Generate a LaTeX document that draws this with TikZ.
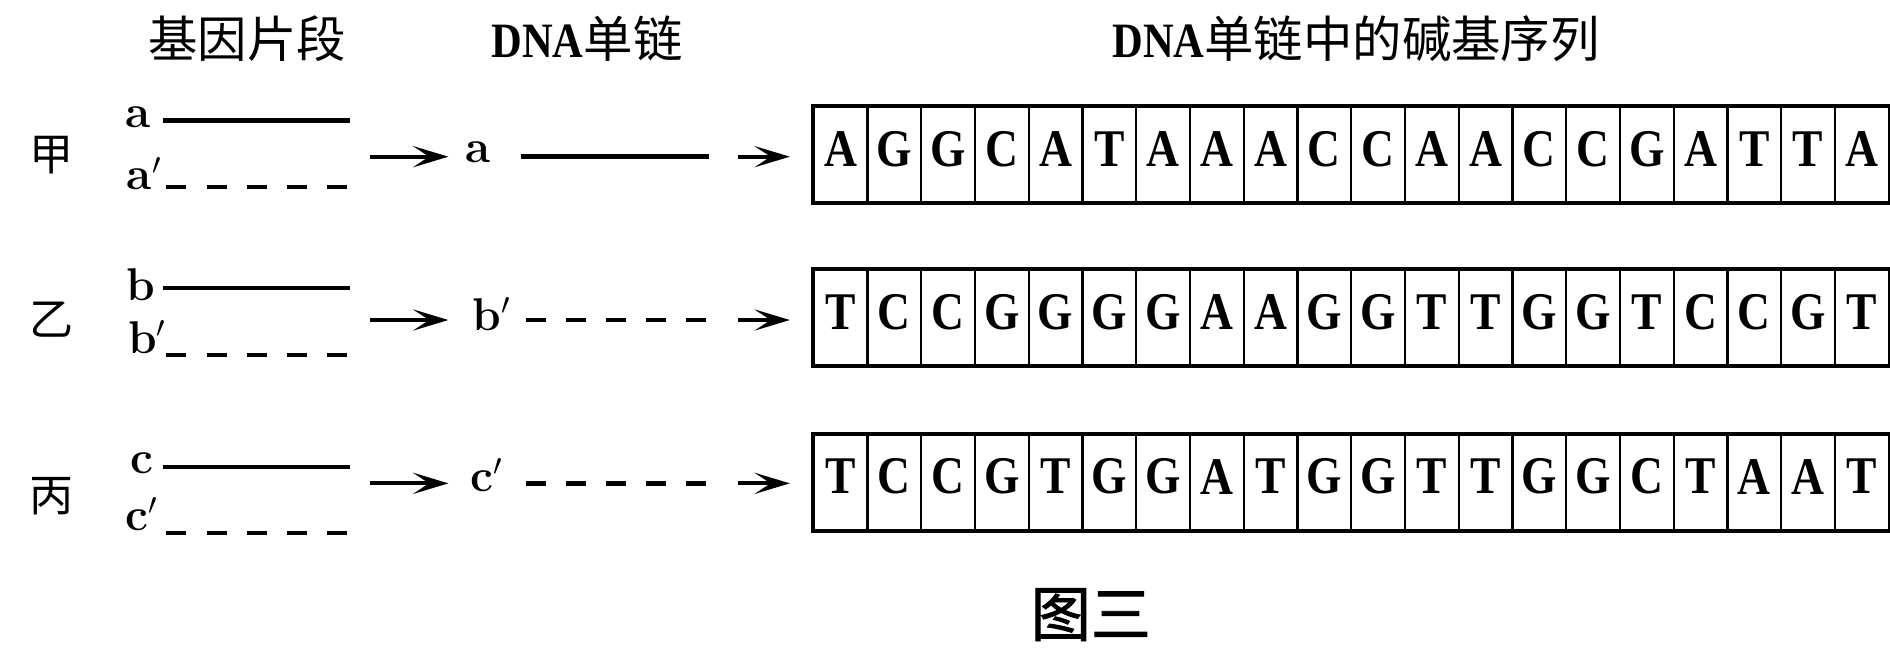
\documentclass[tikz,border=0pt]{standalone}
\usepackage{fontspec}
\newfontfamily\cjk{Noto Sans CJK SC}[AutoFakeBold=1.5]
\newfontfamily\narrow{Liberation Serif}[FakeStretch=0.86]
\usetikzlibrary{arrows.meta}

\newcommand{\baserow}[3]{%
  \foreach \b [count=\i] in {#3} {
    \node[basecell] (#1-\i) at ({675+44.6*(\i-0.5)},#2) {};
    \node[baseletter] at ([yshift=0.11cm]#1-\i.center) {\b};
  }
  \draw[line width=2pt] (#1-1.north west) rectangle (#1-20.south east);
}

\begin{document}
\begin{tikzpicture}[x=0.024cm,y=-0.024cm]
\tikzstyle{every node}+=[inner sep=0pt]
\tikzstyle{head}=[font=\fontsize{28}{30}\selectfont]
\tikzstyle{rowname}=[font=\fontsize{25}{27}\selectfont\cjk]
\tikzstyle{strand}=[anchor=base west, font=\fontsize{26}{28}\selectfont\bfseries]
\tikzstyle{solid strand}=[line width=2.5pt]
\tikzstyle{dash strand}=[line width=2.5pt, dash pattern=on 0.4cm off 0.4cm]
\tikzstyle{arr}=[line width=2.2pt, -{Stealth[length=20pt,width=12pt,inset=9pt]}]
\tikzstyle{basecell}=[draw, line width=1.3pt, minimum width=1.0704cm, minimum height=1.9cm]
\tikzstyle{baseletter}=[font=\fontsize{30}{30}\selectfont\narrow\bfseries]
\useasboundingbox (0,0) rectangle (1568,547);

% headers
\node[head] (hgene) at (205,32) {\cjk 基因片段};
\node[head] (hsingle) at (487,32) {{\narrow\bfseries DNA}{\cjk 单链}};
\node[head] (hseq) at (1125,32) {{\narrow\bfseries DNA}{\cjk 单链中的碱基序列}};

% row names
\node[rowname] (jia) at (43,129) {甲};
\node[rowname] (yi) at (43,265) {乙};
\node[rowname] (bing) at (43,412) {丙};

% gene fragments
\node[strand] (jia-a) at (104,106) {a};
\node[strand] (jia-a2) at (105,157.6) {a$'$};
\draw[solid strand] (135,100) -- (290,100);
\draw[dash strand] (138,155) -- (290,155);
\node[strand] (yi-b) at (105,249) {b};
\node[strand] (yi-b2) at (106,293) {b$'$};
\draw[solid strand] (135,239) -- (290,239);
\draw[dash strand] (138,294.5) -- (290,294.5);
\node[strand] (bing-c) at (108,393) {c};
\node[strand] (bing-c2) at (104,440) {c$'$};
\draw[solid strand] (135,387.5) -- (290,387.5);
\draw[dash strand] (138,442) -- (290,442);

% single strands
\coordinate (jia-in) at (307,130);
\coordinate (jia-out) at (372,130);
\node[strand] (jia-s) at (386,135) {a};
\draw[solid strand] (432,130) -- (588,130);
\coordinate (jia-next) at (612,130);
\coordinate (yi-in) at (307,265.5);
\coordinate (yi-out) at (372,265.5);
\node[strand] (yi-s) at (392,274) {b$'$};
\draw[dash strand] (436,265.5) -- (588,265.5);
\coordinate (yi-next) at (612,265.5);
\coordinate (bing-in) at (307,401);
\coordinate (bing-out) at (372,401);
\node[strand] (bing-s) at (390,408) {c$'$};
\draw[dash strand] (436,401) -- (588,401);
\coordinate (bing-next) at (612,401);

% base sequences
\baserow{jiaseq}{128}{A,G,G,C,A,T,A,A,A,C,C,A,A,C,C,G,A,T,T,A}
\baserow{yiseq}{263.5}{T,C,C,G,G,G,G,A,A,G,G,T,T,G,G,T,C,C,G,T}
\baserow{bingseq}{400}{T,C,C,G,T,G,G,A,T,G,G,T,T,G,G,C,T,A,A,T}

% arrows
\draw[arr] (jia-in) -- (jia-out);
\draw[arr] (yi-in) -- (yi-out);
\draw[arr] (bing-in) -- (bing-out);
\draw[arr, shorten >=0.45cm] (jia-next) -- (jia-next -| jiaseq-1.west);
\draw[arr, shorten >=0.45cm] (yi-next) -- (yi-next -| yiseq-1.west);
\draw[arr, shorten >=0.45cm] (bing-next) -- (bing-next -| bingseq-1.west);

\node[font=\fontsize{34}{36}\selectfont\cjk\bfseries] (fig) at (905,510) {图三};
\end{tikzpicture}
\end{document}
